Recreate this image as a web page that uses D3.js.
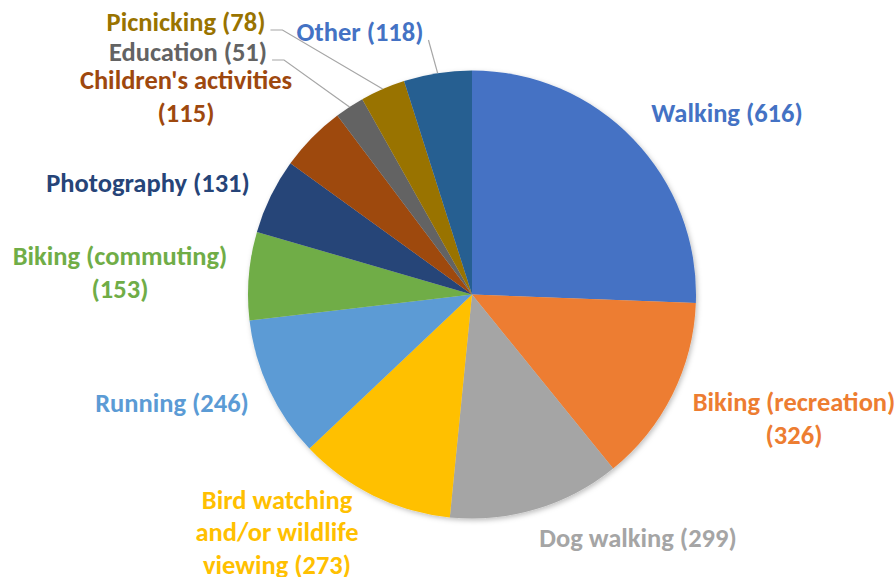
<!DOCTYPE html>
<html>
<head>
<meta charset="utf-8">
<script src="https://cdn.jsdelivr.net/npm/d3@7"></script>
<style>
  body { margin: 0; background: #fff; }
  svg text { font-family: Carlito, Lato, "Open Sans", sans-serif; font-weight: 700; }
</style>
</head>
<body>
<div id="chart"></div>
<script>
// Datos del gráfico (orden en sentido horario desde las 12)
const categories = ["Walking", "Biking (recreation)", "Dog walking", "Bird watching and/or wildlife viewing",
                    "Running", "Biking (commuting)", "Photography", "Children's activities",
                    "Education", "Picnicking", "Other"];
const counts = [616, 326, 299, 273, 246, 153, 131, 115, 51, 78, 118];
const sliceColors = ["#4472C4", "#ED7D31", "#A5A5A5", "#FFC000", "#5B9BD5", "#70AD47",
                     "#264478", "#9E480E", "#636363", "#997300", "#255E91"];
const labelColors = ["#4472C4", "#ED7D31", "#A5A5A5", "#FFC000", "#5B9BD5", "#70AD47",
                     "#264478", "#9E480E", "#636363", "#997300", "#4472C4"];
// Líneas de cada etiqueta (el número se añade en {v})
const labelLines = [
    ["Walking ({v})"],
    ["Biking (recreation)", "({v})"],
    ["Dog walking ({v})"],
    ["Bird watching", "and/or wildlife", "viewing ({v})"],
    ["Running ({v})"],
    ["Biking (commuting)", "({v})"],
    ["Photography ({v})"],
    ["Children's activities", "({v})"],
    ["Education ({v})"],
    ["Picnicking ({v})"],
    ["Other ({v})"]
];

// Posición de las etiquetas (centro del bloque de texto) y si llevan línea guía
const labelPos = [
    { x: 727, y: 113 },
    { x: 794, y: 418 },
    { x: 638, y: 538 },
    { x: 277, y: 532 },
    { x: 172, y: 403 },
    { x: 120, y: 272 },
    { x: 148, y: 183 },
    { x: 186, y: 96 },
    { x: 188, y: 52, leader: true, elbow: 12 },
    { x: 186, y: 22, leader: true, elbow: 12 },
    { x: 360, y: 32, leader: true, elbow: 0 }
];

const width = 896, height = 577;
const cx = 472, cy = 294.5, radius = 224;
const fontSize = 26.5, lineHeight = 32.5;

const data = categories.map((c, i) => ({ name: c, value: counts[i], i: i }));

const svg = d3.select('#chart').append('svg')
    .attr('width', width)
    .attr('height', height);

// Sombra suave de la tarta
const defs = svg.append('defs');
const f = defs.append('filter').attr('id', 'shadow')
    .attr('x', '-10%').attr('y', '-10%').attr('width', '120%').attr('height', '120%');
f.append('feDropShadow')
    .attr('dx', 1.5).attr('dy', 2)
    .attr('stdDeviation', 2.5)
    .attr('flood-color', '#000')
    .attr('flood-opacity', 0.25);

const pie = d3.pie().sort(null).value(d => d.value);
const arcs = pie(data);
const arc = d3.arc().innerRadius(0).outerRadius(radius);
const edge = d3.arc().innerRadius(radius).outerRadius(radius);

const g = svg.append('g').attr('transform', `translate(${cx}, ${cy})`);

g.append('g').attr('filter', 'url(#shadow)')
  .selectAll('path')
  .data(arcs)
  .join('path')
    .attr('d', arc)
    .attr('fill', d => sliceColors[d.data.i]);

// Etiquetas
const labels = svg.append('g');
arcs.forEach(d => {
    const i = d.data.i;
    const pos = labelPos[i];
    const lines = labelLines[i].map(s => s.replace('{v}', d.data.value));
    const top = pos.y - (lines.length - 1) * lineHeight / 2;
    const t = labels.append('text')
        .attr('text-anchor', 'middle')
        .attr('fill', labelColors[i])
        .attr('font-size', fontSize + 'px');
    lines.forEach((s, k) => {
        t.append('tspan')
            .attr('x', pos.x)
            .attr('y', top + k * lineHeight)
            .attr('dy', '0.35em')
            .text(s);
    });

    if (pos.leader) {
        const bb = t.node().getBBox();
        const p = edge.centroid(d);
        const x0 = bb.x + bb.width + 5;
        const y0 = pos.y + 8;
        const pts = [[x0, y0], [x0 + pos.elbow, y0], [cx + p[0], cy + p[1]]];
        labels.append('path')
            .attr('d', d3.line()(pts))
            .attr('fill', 'none')
            .attr('stroke', '#A6A6A6')
            .attr('stroke-width', 1.2);
    }
});
</script>
</body>
</html>
